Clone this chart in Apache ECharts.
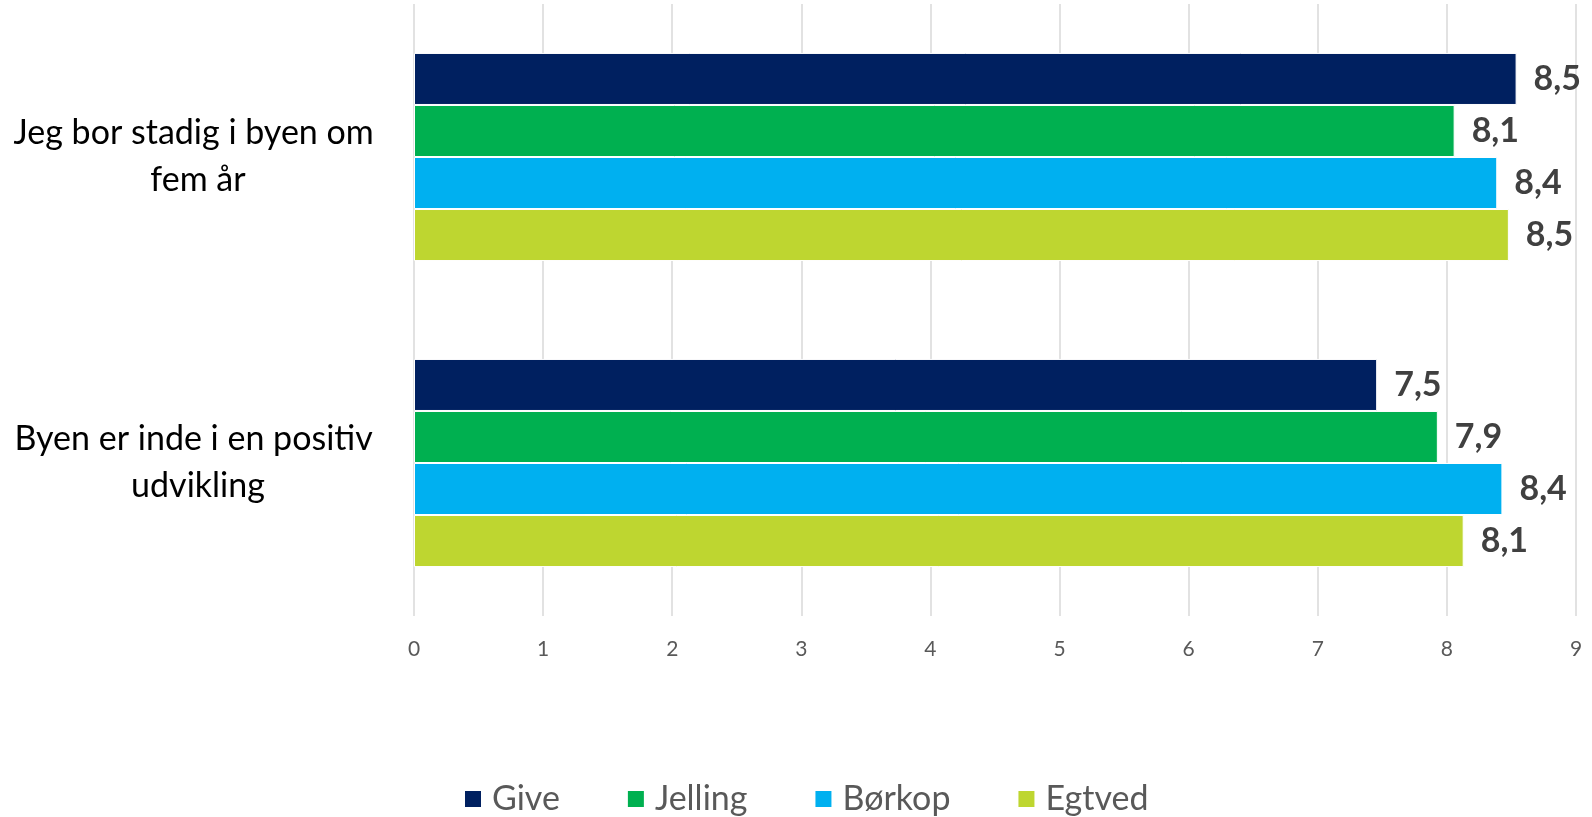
<!DOCTYPE html>
<html>
<head>
<meta charset="utf-8">
<script src="https://cdn.jsdelivr.net/npm/echarts@6/dist/echarts.min.js"></script>
<style>
html,body{margin:0;padding:0;background:#fff;}
#c{width:1592px;height:817px;}
</style>
</head>
<body>
<div id="c"></div>
<script>
const categories = ["Jeg bor stadig i byen om fem år", "Byen er inde i en positiv udvikling"];
const seriesNames = ["Give", "Jelling", "Børkop", "Egtved"];
const give = [8.54, 7.46];
const jelling = [8.06, 7.93];
const borkop = [8.39, 8.43];
const egtved = [8.48, 8.13];
const xTicks = [0, 1, 2, 3, 4, 5, 6, 7, 8, 9];

const colors = ["#002060", "#00B050", "#00B0F0", "#BED630"];
const seriesData = [give, jelling, borkop, egtved];
const FONT = "Lato";

const chart = echarts.init(document.getElementById('c'));
chart.setOption({
  animation: false,
  textStyle: { fontFamily: FONT },
  grid: { left: 414, right: 16, top: 4, bottom: 201, containLabel: false },
  xAxis: {
    type: 'value',
    min: xTicks[0],
    max: xTicks[xTicks.length - 1],
    interval: 1,
    axisLine: { show: false },
    axisTick: { show: false },
    axisLabel: { color: '#595959', fontSize: 21, margin: 23, fontFamily: FONT },
    splitLine: { show: true, lineStyle: { color: '#D9D9D9', width: 1.5 } }
  },
  yAxis: {
    type: 'category',
    inverse: true,
    data: categories,
    axisLine: { show: false },
    axisTick: { show: false },
    axisLabel: {
      color: '#000000',
      fontSize: 34,
      fontFamily: FONT,
      align: 'center',
      margin: 216,
      width: 385,
      overflow: 'break',
      lineHeight: 47,
      padding: [0, 0, 10, 0]
    }
  },
  legend: {
    data: seriesNames,
    top: 777,
    left: 458,
    itemWidth: 18,
    itemHeight: 18,
    itemGap: 66,
    icon: 'rect',
    textStyle: { color: '#595959', fontSize: 34, fontFamily: FONT, padding: [0, 0, 0, 5] }
  },
  series: seriesNames.map((n, i) => ({
    name: n,
    type: 'bar',
    data: seriesData[i],
    barGap: '0%',
    barCategoryGap: '32%',
    itemStyle: { color: colors[i], borderColor: '#ffffff', borderWidth: 1 },
    label: {
      show: true,
      position: 'right',
      distance: 17,
      color: '#404040',
      fontSize: 34,
      fontWeight: 'bold',
      fontFamily: FONT,
      formatter: p => p.value.toFixed(1).replace('.', ',')
    }
  }))
});
</script>
</body>
</html>
